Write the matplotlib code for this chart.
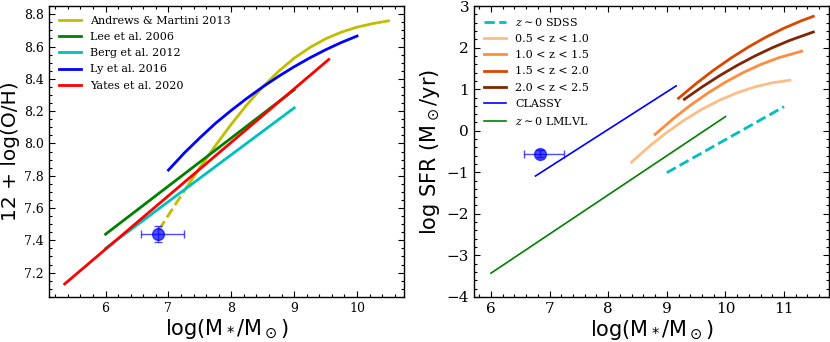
import matplotlib

matplotlib.use("Agg")
import matplotlib.pyplot as plt
from matplotlib.ticker import MultipleLocator

plt.rcParams["font.family"] = "DejaVu Serif"
plt.rcParams["mathtext.fontset"] = "dejavusans"

# ---- left panel: mass-metallicity relations ----
am13_dash_m = [6.85, 7.0, 7.15, 7.3]
am13_dash_z = [7.465, 7.556, 7.646, 7.734]
am13_m = [7.3, 7.5, 7.75, 8.0, 8.25, 8.5, 8.75, 9.0, 9.25, 9.5, 9.75, 10.0, 10.25, 10.5]
am13_z = [7.734, 7.850, 7.988, 8.119, 8.241, 8.350, 8.446, 8.528, 8.594, 8.648,
          8.689, 8.720, 8.742, 8.759]
lee_m = [6.0, 9.0]
lee_z = [7.438, 8.332]
berg_m = [6.0, 9.0]
berg_z = [7.35, 8.22]
ly_m = [7.0, 7.25, 7.5, 7.75, 8.0, 8.25, 8.5, 8.75, 9.0, 9.25, 9.5, 9.75, 10.0]
ly_z = [7.835, 7.94, 8.035, 8.125, 8.205, 8.28, 8.35, 8.415, 8.475, 8.53, 8.58, 8.625, 8.665]
yates_m = [5.35, 9.55]
yates_z = [7.13, 8.52]

# our galaxy
obj_m = 6.83
obj_m_err = [[0.26], [0.41]]
obj_z = 7.44
obj_z_err = 0.05

# ---- right panel: star-forming main sequence ----
sdss_m = [9.0, 11.0]
sdss_sfr = [-1.01, 0.58]
w1_m = [8.4, 8.7, 9.0, 9.3, 9.6, 9.9, 10.2, 10.5, 10.8, 11.1]
w1_sfr = [-0.755, -0.378, -0.04, 0.258, 0.517, 0.736, 0.915, 1.055, 1.155, 1.216]
w2_m = [8.8, 9.1, 9.4, 9.7, 10.0, 10.3, 10.6, 10.9, 11.3]
w2_sfr = [-0.088, 0.278, 0.610, 0.907, 1.17, 1.399, 1.594, 1.754, 1.915]
w3_m = [9.2, 9.5, 9.8, 10.1, 10.4, 10.7, 11.0, 11.3, 11.5]
w3_sfr = [0.782, 1.135, 1.460, 1.755, 2.022, 2.261, 2.47, 2.651, 2.755]
w4_m = [9.3, 9.6, 9.9, 10.2, 10.5, 10.8, 11.1, 11.5]
w4_sfr = [0.758, 1.053, 1.325, 1.573, 1.798, 1.999, 2.177, 2.378]
classy_m = [6.76, 9.16]
classy_sfr = [-1.09, 1.08]
lmlvl_m = [6.0, 10.0]
lmlvl_sfr = [-3.43, 0.34]

obj_sfr = -0.55
obj_sfr_err = 0.08


def style_axes(ax, xminor, yminor, tick_size):
    ax.tick_params(which="both", direction="in", top=True, right=True,
                   labelsize=tick_size)
    ax.tick_params(which="major", length=4.3, width=0.8)
    ax.tick_params(which="minor", length=2.2, width=0.8)
    ax.xaxis.set_minor_locator(MultipleLocator(xminor))
    ax.yaxis.set_minor_locator(MultipleLocator(yminor))
    for s in ax.spines.values():
        s.set_linewidth(1.0)


fig = plt.figure(figsize=(8.3, 3.42), dpi=100)

ax1 = fig.add_axes([0.059, 0.132, 0.428, 0.850])
ax1.plot(am13_dash_m, am13_dash_z, color="y", lw=2, ls="--")
ax1.plot(am13_m, am13_z, color="y", lw=2, label="Andrews & Martini 2013")
ax1.plot(lee_m, lee_z, color="g", lw=2, label="Lee et al. 2006")
ax1.plot(berg_m, berg_z, color="c", lw=2, label="Berg et al. 2012")
ax1.plot(ly_m, ly_z, color="b", lw=2, label="Ly et al. 2016")
ax1.plot(yates_m, yates_z, color="r", lw=2, label="Yates et al. 2020")
ax1.errorbar(obj_m, obj_z, xerr=obj_m_err, yerr=obj_z_err, fmt="o", color="b",
             ms=8.5, alpha=0.7, capsize=3, elinewidth=1)
ax1.set_xlim(5.1, 10.75)
ax1.set_ylim(7.05, 8.85)
ax1.xaxis.set_major_locator(MultipleLocator(1))
ax1.yaxis.set_major_locator(MultipleLocator(0.2))
style_axes(ax1, 0.2, 0.05, 9)
ax1.set_xlabel(r"log(M$_*$/M$_\odot$)", family="DejaVu Sans", fontsize=15, labelpad=2)
ax1.set_ylabel("12 + log(O/H)", family="DejaVu Sans", fontsize=14.5, labelpad=3)
ax1.legend(loc="upper left", frameon=False, fontsize=8, labelspacing=0.55)

ax2 = fig.add_axes([0.571, 0.132, 0.428, 0.850])
ax2.plot(sdss_m, sdss_sfr, color="c", lw=2, ls="--", label=r"$z\sim0$ SDSS")
ax2.plot(w1_m, w1_sfr, color="#fdbe85", lw=2, label="0.5 < z < 1.0")
ax2.plot(w2_m, w2_sfr, color="#fd8d3c", lw=2, label="1.0 < z < 1.5")
ax2.plot(w3_m, w3_sfr, color="#d94801", lw=2, label="1.5 < z < 2.0")
ax2.plot(w4_m, w4_sfr, color="#7f2704", lw=2, label="2.0 < z < 2.5")
ax2.plot(classy_m, classy_sfr, color="b", lw=1.2, label="CLASSY")
ax2.plot(lmlvl_m, lmlvl_sfr, color="g", lw=1.2, label=r"$z\sim0$ LMLVL")
ax2.errorbar(obj_m, obj_sfr, xerr=obj_m_err, yerr=obj_sfr_err, fmt="o", color="b",
             ms=8.5, alpha=0.7, capsize=3, elinewidth=1)
ax2.set_xlim(5.71, 11.77)
ax2.set_ylim(-4, 3)
ax2.xaxis.set_major_locator(MultipleLocator(1))
ax2.yaxis.set_major_locator(MultipleLocator(1))
style_axes(ax2, 0.2, 0.2, 11)
ax2.set_xlabel(r"log(M$_*$/M$_\odot$)", family="DejaVu Sans", fontsize=15, labelpad=2)
ax2.set_ylabel(r"log SFR (M$_\odot$/yr)", family="DejaVu Sans", fontsize=15, labelpad=3)
leg2 = ax2.legend(loc="upper left", frameon=False, fontsize=8, labelspacing=0.55)
for t in leg2.get_texts():
    t.set_math_fontfamily("dejavuserif")

fig.savefig("out.png", dpi=100)
